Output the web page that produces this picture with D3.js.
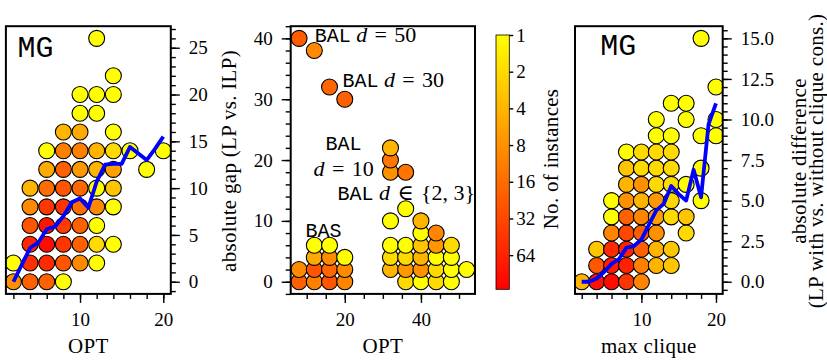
<!DOCTYPE html>
<html>
<head>
<meta charset="utf-8">
<script src="https://cdn.jsdelivr.net/npm/d3@7"></script>
<style>
  body { margin: 0; background: #fff; }
  text { fill: #000; white-space: pre; }
</style>
</head>
<body>
<svg id="chart" width="827" height="361"></svg>
<script>
// ---- data: [x, y, no. of instances] ----
const gapPoints = [
  [2,0,8],[2,2,1],
  [4,0,20],[4,2,50],[4,4,60],[4,6,25],[4,8,9],[4,10,4],
  [6,0,20],[6,2,55],[6,4,95],[6,6,82],[6,8,44],[6,10,16],[6,12,5],[6,14,1],
  [8,0,1],[8,2,25],[8,4,45],[8,6,40],[8,8,45],[8,10,25],[8,12,20],[8,14,11],[8,16,4],
  [10,2,9],[10,4,20],[10,6,20],[10,8,16],[10,10,18],[10,12,7],[10,14,11],[10,16,5],[10,18,1],[10,20,1],
  [12,2,1],[12,4,2],[12,6,1],[12,8,9],[12,10,1],[12,12,4],[12,14,4],[12,18,1],[12,20,1],[12,26,1],
  [14,4,1],[14,8,1],[14,10,3],[14,12,6],[14,14,2],[14,16,1],[14,20,1],[14,22,1],
  [16,14,1],[18,12,1],[20,14,1]
];
const gapMeanX = [2,3,4,5,6,7,8,9,10,11,12,13,14,15,16,17,18,19,20];
const gapMean  = [0,1.8,3.6,4.2,5.6,5.9,7.0,8.5,8.9,7.9,10.7,12.5,12.6,12.6,14.4,13.7,13.0,14.2,15.5];

const balPoints = [
  [8,0,20],[8,2,9],[12,0,11],[12,2,25],[12,4,5],[12,6,1],
  [16,0,25],[16,2,18],[16,4,9],[16,6,1],[20,0,10],[20,2,9],[20,4,1],
  [8,40,22],[12,38,9],[16,32,18],[20,30,20],
  [32,18,8],[32,20,13],[32,22,4],[36,18,14],
  [32,2,4],[32,4,2],[32,6,1],[32,10,1],
  [36,0,2],[36,2,7],[36,4,2],[36,6,1],[36,12,1],
  [40,0,1],[40,2,8],[40,4,4],[40,6,3],[40,8,1],[40,10,4],
  [44,0,2],[44,2,2],[44,4,1],[44,6,7],[44,8,10],
  [48,0,1],[48,2,1],[48,4,1],[48,6,2],[52,2,1]
];

const cliquePoints = [
  [2,0,4],
  [4,0,90],[4,1,24],[4,2,3],
  [6,0,100],[6,1,70],[6,2,55],[6,3,10],[6,4,1],[6,5,1],
  [8,0,45],[8,1,65],[8,2,65],[8,3,32],[8,4,20],[8,5,8],[8,6,4],[8,7,3],[8,8,1],
  [10,0,10],[10,1,11],[10,2,20],[10,3,22],[10,4,10],[10,5,4],[10,6,8],[10,7,2],[10,8,2],
  [12,1,4],[12,2,4],[12,3,8],[12,4,6],[12,5,7],[12,6,2],[12,7,2],[12,8,2],[12,9,1],[12,10,1],
  [14,1,3],[14,2,3],[14,4,2],[14,5,2],[14,6,2],[14,7,2],[14,8,2],[14,9,1],[14,11,1],
  [16,3,2],[16,4,3],[16,6,1],[16,10,1],[16,11,1],
  [18,5,1],[18,7,1],[18,9,1],[18,15,1],
  [20,9,1],[20,10,1],[20,12,1]
];
const cliqueMeanX = [2,3,4,5,6,7,8,9,10,11,12,13,14,15,16,17,18,19,20];
const cliqueMean  = [0,0,0.2,0.6,1.1,1.4,2.1,2.2,2.6,3.5,4.4,4.8,5.9,5.4,5.0,6.9,5.2,9.7,11.0];

const colorTicks = [1,2,4,8,16,32,64];
const countMax = 122;

// ---- setup ----
const svg = d3.select('#chart');
const serif = '"Liberation Serif", "DejaVu Serif", serif';
const mono = '"Liberation Mono", "DejaVu Sans Mono", monospace';
const plotTop = 26.2, plotBottom = 293.9;
const tickFont = 19, labelFont = 21;

// autumn_r on a log norm
const colorOf = n => {
  const t = Math.log(n) / Math.log(countMax);
  return d3.rgb(255, Math.round(255 * (1 - t)), 0).formatHex();
};

function styleAxis(g) {
  g.select('.domain').remove();
  g.selectAll('line').attr('stroke', '#000').attr('stroke-width', 1.4);
  g.selectAll('text')
    .style('font-family', serif)
    .style('font-size', tickFont + 'px')
    .attr('fill', '#000');
}

function addLabel(sel, text) {
  return sel.append('text')
    .attr('text-anchor', 'middle')
    .style('font-family', serif)
    .style('font-size', labelFont + 'px')
    .style('letter-spacing', '0.3px')
    .text(text);
}

function drawPanel(cfg) {
  const x = d3.scaleLinear().domain(cfg.xDomain).range([cfg.left, cfg.right]);
  const y = d3.scaleLinear().domain(cfg.yDomain).range([plotBottom, plotTop]);
  const g = svg.append('g');

  const clipId = 'clip-' + cfg.name;
  svg.append('clipPath').attr('id', clipId)
    .append('rect')
    .attr('x', cfg.left).attr('y', plotTop)
    .attr('width', cfg.right - cfg.left).attr('height', plotBottom - plotTop);

  const plot = g.append('g').attr('clip-path', `url(#${clipId})`);

  plot.selectAll('circle')
    .data(cfg.points)
    .join('circle')
    .attr('cx', d => x(d[0]))
    .attr('cy', d => y(d[1]))
    .attr('r', 8)
    .attr('fill', d => colorOf(d[2]))
    .attr('stroke', '#000')
    .attr('stroke-width', 1.1);

  if (cfg.lineY) {
    const line = d3.line().x((d, i) => x(cfg.lineX[i])).y(d => y(d));
    plot.append('path')
      .datum(cfg.lineY)
      .attr('d', line)
      .attr('fill', 'none')
      .attr('stroke', '#0000ff')
      .attr('stroke-width', 3.8)
      .attr('stroke-linejoin', 'round');
  }

  // frame
  g.append('rect')
    .attr('x', cfg.left).attr('y', plotTop)
    .attr('width', cfg.right - cfg.left).attr('height', plotBottom - plotTop)
    .attr('fill', 'none').attr('stroke', '#000').attr('stroke-width', 2);

  // x axis
  const xMinor = g.append('g').attr('transform', `translate(0,${plotBottom})`)
    .call(d3.axisBottom(x).tickValues(cfg.xMinor).tickSize(5).tickFormat(''));
  styleAxis(xMinor);
  const xMajor = g.append('g').attr('transform', `translate(0,${plotBottom})`)
    .call(d3.axisBottom(x).tickValues(cfg.xMajor).tickSize(9).tickPadding(10).tickFormat(d3.format('d')));
  styleAxis(xMajor);

  // y axis
  const yAxisFn = cfg.yRight ? d3.axisRight : d3.axisLeft;
  const yPos = cfg.yRight ? cfg.right : cfg.left;
  const yMinor = g.append('g').attr('transform', `translate(${yPos},0)`)
    .call(yAxisFn(y).tickValues(cfg.yMinor).tickSize(5).tickFormat(''));
  styleAxis(yMinor);
  const yMajor = g.append('g').attr('transform', `translate(${yPos},0)`)
    .call(yAxisFn(y).tickValues(cfg.yMajor).tickSize(9).tickPadding(9).tickFormat(cfg.yFormat));
  styleAxis(yMajor);

  // x label
  addLabel(g, cfg.xLabel)
    .attr('x', (cfg.left + cfg.right) / 2).attr('y', 353);

  // y label(s)
  cfg.yLabel.forEach((t, i) => {
    addLabel(g, t)
      .attr('transform', `translate(${cfg.yLabelX[i]},161) rotate(-90)`);
  });

  if (cfg.tag) {
    g.append('text')
      .attr('x', x(cfg.tag.x)).attr('y', y(cfg.tag.y))
      .style('font-family', mono).style('font-size', '30px')
      .text('MG');
  }
  return { x, y, g };
}

// ---- left panel ----
drawPanel({
  name: 'gap', left: 5.9, right: 170.8,
  xDomain: [1.1, 20.9], yDomain: [-1.3, 27.3],
  points: gapPoints, lineX: gapMeanX, lineY: gapMean,
  xMajor: [10, 20], xMinor: d3.range(2, 21, 2),
  yMajor: d3.range(0, 26, 5), yMinor: d3.range(-1, 28, 1),
  yRight: true, yFormat: d3.format('d'),
  xLabel: 'OPT', yLabel: ['absolute gap (LP vs. ILP)'], yLabelX: [236],
  tag: { x: 2.5, y: 24 }
});

// ---- middle panel ----
const mid = drawPanel({
  name: 'bal', left: 290.7, right: 475,
  xDomain: [5.8, 54.2], yDomain: [-2, 42],
  points: balPoints,
  xMajor: [20, 40], xMinor: d3.range(10, 55, 5),
  yMajor: d3.range(0, 41, 10), yMinor: d3.range(-2, 43, 2),
  yRight: false, yFormat: d3.format('d'),
  xLabel: 'OPT', yLabel: [], yLabelX: []
});

// annotations (data coords); m = typewriter, i = math italic, s = roman
const eq = '\u2004=\u2004';
const notes = [
  { x: 12.1, y: 39.4, anchor: 'start', parts: [['BAL','m'],[' ','s'],['d','i'],[eq + '50','s']] },
  { x: 19.4, y: 32.0, anchor: 'start', parts: [['BAL','m'],[' ','s'],['d','i'],[eq + '30','s']] },
  { x: 19.7, y: 21.6, anchor: 'middle', parts: [['BAL','m']] },
  { x: 19.7, y: 17.3, anchor: 'middle', parts: [['d','i'],[eq + '10','s']] },
  { x: 18.1, y: 13.5, anchor: 'start', parts: [['BAL','m'],[' ','s'],['d','i'],['\u2004\u2208\u2004{2, 3}','s']] },
  { x: 9.7, y: 7.4, anchor: 'start', parts: [['BAS','m']] }
];
notes.forEach(n => {
  const t = mid.g.append('text')
    .attr('x', mid.x(n.x)).attr('y', mid.y(n.y))
    .attr('text-anchor', n.anchor);
  n.parts.forEach(([s, k]) => {
    t.append('tspan')
      .style('font-family', k === 'm' ? mono : serif)
      .style('font-size', k === 'm' ? '20px' : '22px')
      .style('font-style', k === 'i' ? 'italic' : 'normal')
      .text(s);
  });
});

// ---- colorbar ----
const cb = { left: 496, right: 509.3, top: 35, bottom: 289.3 };
const defs = svg.append('defs');
const grad = defs.append('linearGradient').attr('id', 'autumn')
  .attr('x1', 0).attr('y1', 0).attr('x2', 0).attr('y2', 1);
grad.append('stop').attr('offset', '0%').attr('stop-color', '#ffff00');
grad.append('stop').attr('offset', '100%').attr('stop-color', '#ff0000');
svg.append('rect')
  .attr('x', cb.left).attr('y', cb.top)
  .attr('width', cb.right - cb.left).attr('height', cb.bottom - cb.top)
  .attr('fill', 'url(#autumn)').attr('stroke', '#000').attr('stroke-width', 0.8);
const cScale = d3.scaleLog().domain([1, countMax]).range([cb.top, cb.bottom]);
const cAxis = svg.append('g').attr('transform', `translate(${cb.right},0)`)
  .call(d3.axisRight(cScale).tickValues(colorTicks).tickSize(4).tickPadding(3).tickFormat(d3.format('d')));
styleAxis(cAxis);
addLabel(svg, 'No. of instances')
  .attr('transform', `translate(558,159) rotate(-90)`);

// ---- right panel ----
drawPanel({
  name: 'clique', left: 575, right: 722.7,
  xDomain: [1.1, 20.9], yDomain: [-0.75, 15.75],
  points: cliquePoints, lineX: cliqueMeanX, lineY: cliqueMean,
  xMajor: [10, 20], xMinor: d3.range(2, 21, 2),
  yMajor: d3.range(0, 15.1, 2.5), yMinor: d3.range(-0.5, 15.6, 0.5),
  yRight: true, yFormat: d3.format('.1f'),
  xLabel: 'max clique',
  yLabel: ['absolute difference', '(LP with vs. without clique cons.)'], yLabelX: [806, 823],
  tag: { x: 4.5, y: 14 }
});
</script>
</body>
</html>
